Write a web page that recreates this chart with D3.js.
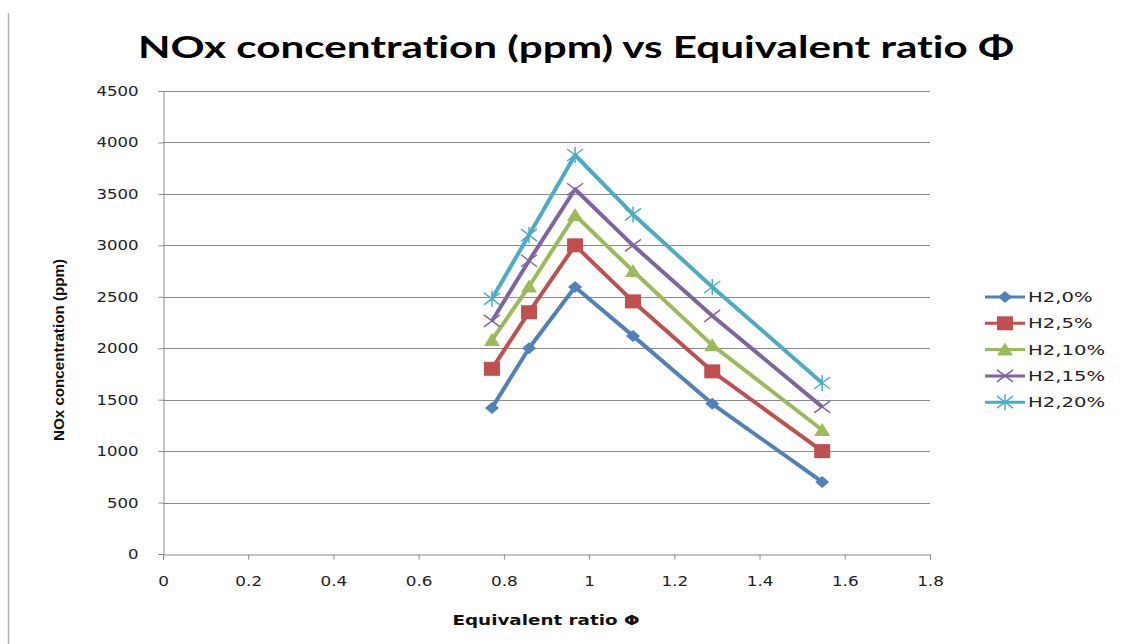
<!DOCTYPE html>
<html>
<head>
<meta charset="utf-8">
<script src="https://cdn.jsdelivr.net/npm/d3@7"></script>
<style>
  html, body { margin: 0; padding: 0; background: #fff; }
  svg { display: block; }
</style>
</head>
<body>
<div id="chart"></div>
<script>
// ---- data ----
const phiValues = [0.772, 0.859, 0.967, 1.103, 1.289, 1.547];
const seriesNames = ['H2,0%', 'H2,5%', 'H2,10%', 'H2,15%', 'H2,20%'];
const h2_0 = [1420, 2000, 2595, 2120, 1460, 700];
const h2_5 = [1800, 2350, 3000, 2455, 1775, 1000];
const h2_10 = [2080, 2600, 3295, 2750, 2030, 1205];
const h2_15 = [2265, 2850, 3545, 3000, 2315, 1430];
const h2_20 = [2480, 3100, 3878, 3300, 2595, 1662];
const xTicks = [0, 0.2, 0.4, 0.6, 0.8, 1, 1.2, 1.4, 1.6, 1.8];
const yTicks = [0, 500, 1000, 1500, 2000, 2500, 3000, 3500, 4000, 4500];

const colors = ['#4F81BD', '#C0504D', '#9BBB59', '#8064A2', '#4BACC6'];
const markers = ['diamond', 'square', 'triangle', 'x', 'star'];
const allValues = [h2_0, h2_5, h2_10, h2_15, h2_20];

const W = 1134, H = 644;
const svg = d3.select('#chart').append('svg')
    .attr('width', W).attr('height', H);

// left border line of the screenshot
svg.append('line')
    .attr('x1', 8.5).attr('x2', 8.5).attr('y1', 13).attr('y2', H)
    .attr('stroke', '#b0b0b0').attr('stroke-width', 1.5);

const plot = { left: 163, right: 930, top: 91, bottom: 554 };
const x = d3.scaleLinear().domain([0, 1.8]).range([plot.left, plot.right]);
const y = d3.scaleLinear().domain([0, 4500]).range([plot.bottom, plot.top]);

// stretch text horizontally (the source picture is a bit wide)
function stretch(sel, k) {
    sel.each(function () {
        const w = this.getComputedTextLength();
        d3.select(this).attr('textLength', w * k).attr('lengthAdjust', 'spacingAndGlyphs');
    });
}

// gridlines
svg.append('g').selectAll('line')
    .data(yTicks.filter(d => d > 0))
    .enter().append('line')
    .attr('x1', plot.left).attr('x2', plot.right)
    .attr('y1', d => Math.round(y(d)) + 0.5).attr('y2', d => Math.round(y(d)) + 0.5)
    .attr('stroke', '#8a8a8a').attr('stroke-width', 1);

// axes
const yAxis = d3.axisLeft(y).tickValues(yTicks).tickSize(5).tickPadding(20)
    .tickFormat(d => String(d));
const xAxis = d3.axisBottom(x).tickValues(xTicks).tickSize(5).tickPadding(14)
    .tickFormat(d => String(d));

const gy = svg.append('g')
    .attr('transform', `translate(${plot.left + 0.5},0)`)
    .call(yAxis);
const gx = svg.append('g')
    .attr('transform', `translate(0,${plot.bottom + 0.5})`)
    .call(xAxis);

[gx, gy].forEach(g => {
    g.select('.domain').attr('stroke', '#8a8a8a');
    g.selectAll('.tick line').attr('stroke', '#8a8a8a');
    g.selectAll('.tick text')
        .attr('fill', '#222')
        .style('font-family', 'DejaVu Sans, Verdana, sans-serif')
        .style('font-size', '14px');
});
gx.selectAll('.tick text').attr('dy', '0.9em');
stretch(gy.selectAll('.tick text'), 1.18);
stretch(gx.selectAll('.tick text'), 1.2);

// title
svg.append('text')
    .attr('x', 576).attr('y', 58)
    .attr('text-anchor', 'middle')
    .attr('textLength', 876).attr('lengthAdjust', 'spacingAndGlyphs')
    .style('font-family', 'Lato, Open Sans, sans-serif')
    .style('font-weight', 'bold').style('font-size', '30px')
    .style('font-variant-ligatures', 'none')
    .attr('fill', '#000')
    .text('NOx concentration (ppm) vs Equivalent ratio Φ');

// x axis title
svg.append('text')
    .attr('x', 546).attr('y', 625)
    .attr('text-anchor', 'middle')
    .attr('textLength', 187).attr('lengthAdjust', 'spacingAndGlyphs')
    .style('font-family', 'DejaVu Sans, Verdana, sans-serif')
    .style('font-weight', 'bold').style('font-size', '14px')
    .attr('fill', '#111')
    .text('Equivalent ratio Φ');

// y axis title
svg.append('text')
    .attr('transform', 'translate(64,350) rotate(-90)')
    .attr('text-anchor', 'middle')
    .attr('textLength', 182).attr('lengthAdjust', 'spacingAndGlyphs')
    .style('font-family', 'Liberation Sans Narrow, Liberation Sans, sans-serif')
    .style('font-weight', 'bold').style('font-size', '14px')
    .attr('fill', '#111')
    .text('NOx concentration (ppm)');

function drawMarker(g, type, color) {
    if (type === 'diamond') {
        g.append('path').attr('d', 'M0,-6L7,0L0,6L-7,0Z').attr('fill', color);
    } else if (type === 'square') {
        g.append('rect').attr('x', -8).attr('y', -7).attr('width', 16).attr('height', 14).attr('fill', color);
    } else if (type === 'triangle') {
        g.append('path').attr('d', 'M0,-7L8,6L-8,6Z').attr('fill', color);
    } else if (type === 'x') {
        g.append('path').attr('d', 'M-8,-6L8,6M-8,6L8,-6')
            .attr('stroke', color).attr('stroke-width', 1.5).attr('fill', 'none');
    } else if (type === 'star') {
        g.append('path').attr('d', 'M-8,-6L8,6M-8,6L8,-6M0,-8L0,8')
            .attr('stroke', color).attr('stroke-width', 1.5).attr('fill', 'none');
    }
}

const line = d3.line().x(d => x(d[0])).y(d => y(d[1]));

allValues.forEach((vals, i) => {
    const pts = phiValues.map((p, j) => [p, vals[j]]);
    const g = svg.append('g');
    g.append('path')
        .datum(pts)
        .attr('d', line)
        .attr('fill', 'none')
        .attr('stroke', colors[i])
        .attr('stroke-width', 4)
        .attr('stroke-linejoin', 'round');
    g.selectAll('.m')
        .data(pts)
        .enter().append('g')
        .attr('transform', d => `translate(${x(d[0])},${y(d[1])})`)
        .each(function () { drawMarker(d3.select(this), markers[i], colors[i]); });
});

// legend
const legend = svg.append('g');
seriesNames.forEach((name, i) => {
    const ly = 297 + i * 26.3;
    const row = legend.append('g').attr('transform', `translate(0,${ly})`);
    row.append('line')
        .attr('x1', 985).attr('x2', 1025).attr('y1', 0).attr('y2', 0)
        .attr('stroke', colors[i]).attr('stroke-width', 3);
    const mg = row.append('g').attr('transform', 'translate(1005,0)');
    drawMarker(mg, markers[i], colors[i]);
    const t = row.append('text')
        .attr('x', 1028).attr('y', 0).attr('dy', '0.36em')
        .style('font-family', 'DejaVu Sans, Verdana, sans-serif')
        .style('font-size', '14px')
        .attr('fill', '#222')
        .text(name);
    stretch(t, 1.4);
});
</script>
</body>
</html>
